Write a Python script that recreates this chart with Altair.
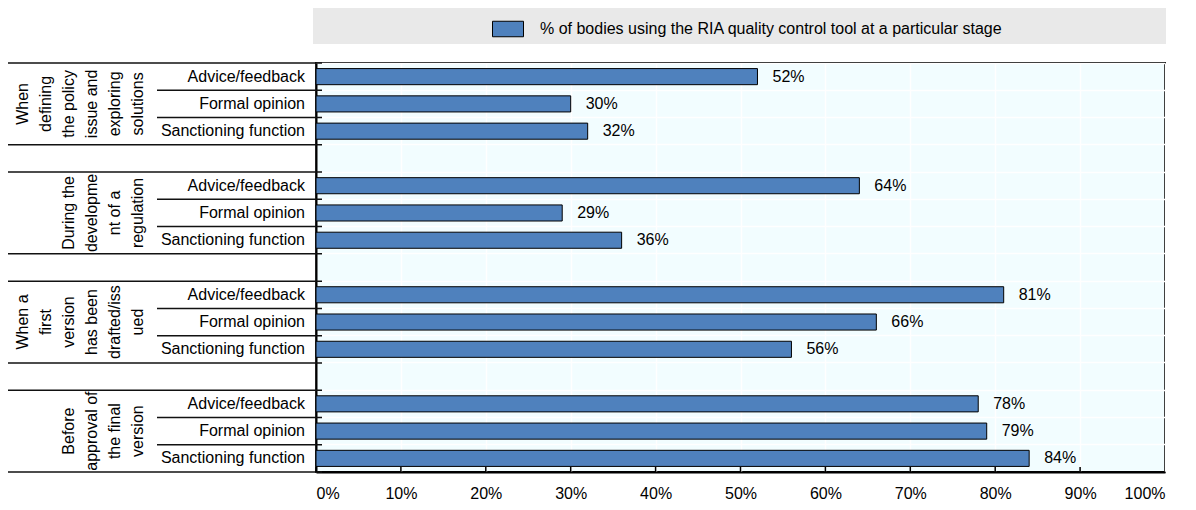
import altair as alt
import pandas as pd

FONT = "Liberation Sans"
FS = 16

LEGEND_TEXT = "% of bodies using the RIA quality control tool at a particular stage"
group_lines = [
    ["When", "defining", "the policy", "issue and", "exploring", "solutions"],
    ["During the", "developme", "nt of a", "regulation"],
    ["When a", "first", "version", "has been", "drafted/iss", "ued"],
    ["Before", "approval of", "the final", "version"],
]
subcategories = ["Advice/feedback", "Formal opinion", "Sanctioning function"]
values = [
    [52, 30, 32],
    [64, 29, 36],
    [81, 66, 56],
    [78, 79, 84],
]
tick_values = [0, 10, 20, 30, 40, 50, 60, 70, 80, 90, 100]

BAR_BLUE = "#4F81BD"
PLOT_BG = "#F2FDFF"
W, H = 849, 409
LINE_H = 23

# row order (gap rows between groups)
row_order = []
for gi in range(len(group_lines)):
    for si in range(len(subcategories)):
        row_order.append(f"g{gi}_{si}")
    if gi < len(group_lines) - 1:
        row_order.append(f"gap{gi}")

bars = pd.DataFrame([
    {"row": f"g{gi}_{si}", "sub": subcategories[si], "value": values[gi][si],
     "label": f"{values[gi][si]}%", "series": LEGEND_TEXT}
    for gi in range(len(group_lines)) for si in range(len(subcategories))
])
max_lines = max(len(g) for g in group_lines)
groups = pd.DataFrame([
    {"row": f"g{gi}_1", "lines": group_lines[gi], "n": len(group_lines[gi])}
    for gi in range(len(group_lines))
])
long_top = pd.DataFrame({"row": [f"g{gi}_0" for gi in range(len(group_lines))]})
long_bottom = pd.DataFrame({"row": [f"g{gi}_2" for gi in range(len(group_lines))]})
short_top = pd.DataFrame({"row": [f"g{gi}_{si}" for gi in range(len(group_lines)) for si in (1, 2)]})
ticks = pd.DataFrame({"value": tick_values[:-1]})

yscale = alt.Scale(domain=row_order, paddingInner=0, paddingOuter=0)
xscale = alt.Scale(domain=[0, 100], nice=False)
y_axis = alt.Axis(title=None, labels=False, ticks=False, domain=True, domainColor="black",
                  domainWidth=2, grid=True, gridColor="white", gridWidth=1.5, bandPosition=0)
x_axis = alt.Axis(title=None, values=tick_values, labelExpr="datum.value + '%'", ticks=False,
                  grid=True, gridColor="white", gridWidth=1.5, domainColor="black", domainWidth=2,
                  labelFont=FONT, labelFontSize=FS, labelColor="black", labelPadding=13)


def Y(band_pos=None):
    if band_pos is None:
        return alt.Y("row:N", scale=yscale, axis=y_axis)
    return alt.Y("row:N", scale=yscale, axis=y_axis, bandPosition=band_pos)


legend_box = alt.Chart(alt.Data(values=[{}])).mark_rect(color="#E9E9E9").encode(
    x=alt.value(-3), x2=alt.value(850), y=alt.value(-55), y2=alt.value(-19)
)

bar_layer = alt.Chart(bars).mark_bar(
    height={"band": 0.59}, stroke="black", strokeWidth=1
).encode(
    x=alt.X("value:Q", scale=xscale, axis=x_axis),
    y=Y(),
    color=alt.Color(
        "series:N",
        scale=alt.Scale(domain=[LEGEND_TEXT], range=[BAR_BLUE]),
        legend=alt.Legend(
            title=None, orient="none", legendX=176, legendY=-50, padding=0,
            symbolType="M-1,-0.5H1V0.5H-1Z", symbolSize=961, symbolStrokeColor="black",
            symbolStrokeWidth=1, symbolOpacity=1, labelFont=FONT, labelFontSize=FS,
            labelColor="black", labelOffset=16, labelLimit=900, zindex=1,
        ),
    ),
)

value_labels = alt.Chart(bars).mark_text(
    align="left", baseline="middle", dx=15, font=FONT, fontSize=FS, color="black"
).encode(x=alt.X("value:Q", scale=xscale, axis=x_axis), y=Y(), text="label:N")

sub_labels = alt.Chart(bars).mark_text(
    align="right", baseline="middle", font=FONT, fontSize=FS, color="black"
).encode(x=alt.value(-11), y=Y(), text="sub:N")

# wrapped, rotated group labels; blocks are right-aligned (last line next to the sub labels)
group_layers = []
for n in sorted(set(groups["n"])):
    group_layers.append(
        alt.Chart(groups).transform_filter(alt.datum.n == int(n)).mark_text(
            align="center", baseline="bottom", angle=270, font=FONT, fontSize=FS,
            lineHeight=LINE_H, color="black"
        ).encode(x=alt.value(-285 + (max_lines - int(n)) * LINE_H), y=Y(), text="lines")
    )

rule_style = dict(color="#111111", strokeWidth=1.5)
long_top_layer = alt.Chart(long_top).mark_rule(**rule_style).encode(
    x=alt.value(-308), x2=alt.value(6), y=Y(0)
)
long_bottom_layer = alt.Chart(long_bottom).mark_rule(**rule_style).encode(
    x=alt.value(-308), x2=alt.value(6), y=Y(1)
)
short_layer = alt.Chart(short_top).mark_rule(**rule_style).encode(
    x=alt.value(-159), x2=alt.value(6), y=Y(0)
)

tick_layer = alt.Chart(ticks).mark_rule(color="black", strokeWidth=1.5).encode(
    x=alt.X("value:Q", scale=xscale, axis=x_axis), y=alt.value(H - 5), y2=alt.value(H)
)

chart = alt.layer(
    legend_box, bar_layer, value_labels, sub_labels, *group_layers,
    long_top_layer, long_bottom_layer, short_layer, tick_layer,
).properties(
    width=W, height=H,
    autosize=alt.AutoSizeParams(type="none"),
    padding={"left": 308, "top": 55, "right": 23, "bottom": 30},
    background="white",
).configure_view(
    fill=PLOT_BG, stroke="black", strokeWidth=2
)

chart.save("out.html", embed_options={"renderer": "svg", "actions": False})
